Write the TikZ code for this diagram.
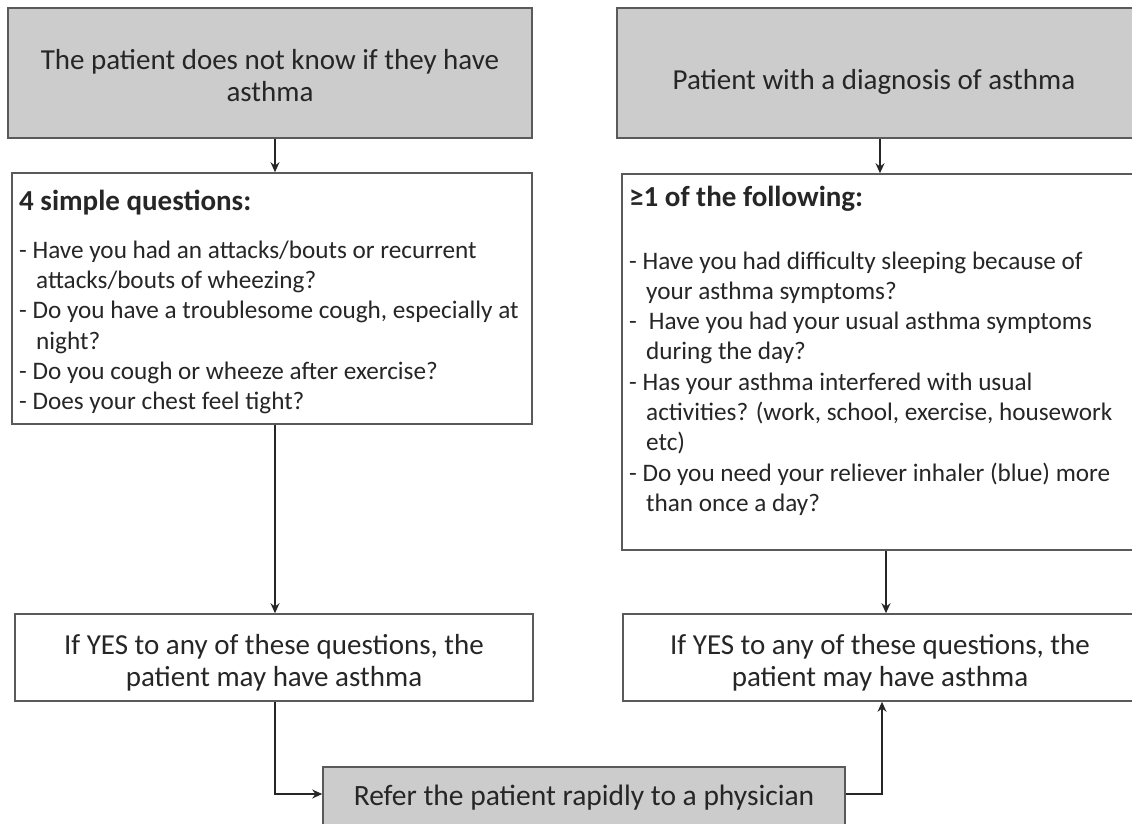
\documentclass[tikz,border=0pt]{standalone}
\usepackage{fontspec}
\setmainfont{Carlito}
\usetikzlibrary{arrows.meta}
\definecolor{boxgray}{HTML}{CCCCCC}
\definecolor{linegray}{HTML}{5A5A5A}
\definecolor{txt}{HTML}{262626}
\begin{document}
\begin{tikzpicture}[x=1pt,y=-1pt,
  box/.style={draw=linegray, line width=1.6pt, rectangle, inner sep=0pt},
  graybox/.style={box, fill=boxgray},
  whitebox/.style={box, fill=white},
  arr/.style={draw=black!85, line width=1.2pt, -{Stealth[length=10pt,width=9pt]}},
  bigtext/.style={align=center, inner sep=0pt, text=txt, font=\fontsize{29}{32}\selectfont},
  listtext/.style={anchor=north west, align=left, inner sep=0pt, text=txt, font=\fontsize{25.2}{30.3}\selectfont},
]
\useasboundingbox (0,0) rectangle (1132,823);
\clip (0,0) rectangle (1132,823);
\fill[white] (0,0) rectangle (1132,823);

% boxes
\node[graybox, minimum width=524pt, minimum height=130pt] (g1) at (270,73) {};
\node[graybox, minimum width=517pt, minimum height=130pt] (g2) at (875.5,73) {};
\node[whitebox, minimum width=520pt, minimum height=251pt] (q1) at (272,298.5) {};
\node[whitebox, minimum width=512pt, minimum height=376pt] (q2) at (878,362) {};
\node[whitebox, minimum width=518pt, minimum height=87pt] (y1) at (274,657.5) {};
\node[whitebox, minimum width=511pt, minimum height=87pt] (y2) at (878.5,657.5) {};
\node[graybox, minimum width=522pt, minimum height=59pt] (r) at (584,796.5) {};

% texts
\node[bigtext] (g1t) at (270,76) {The patient does not know if they have\\asthma};
\node[bigtext] (g2t) at (874,82) {Patient with a diagnosis of asthma};
\node[listtext] (q1t) at (19,190) {{\fontsize{29}{32}\selectfont\bfseries 4 simple questions:}\\[17.3pt]
- Have you had an attacks/bouts or recurrent\\
\hspace*{17pt}attacks/bouts of wheezing?\\
- Do you have a troublesome cough, especially at\\
\hspace*{17pt}night?\\
- Do you cough or wheeze after exercise?\\
- Does your chest feel tight?};
\node[listtext] (q2t) at (629,186) {{\fontsize{29}{32}\selectfont\bfseries ≥1 of the following:}\\[32.2pt]
- Have you had difficulty sleeping because of\\
\hspace*{17pt}your asthma symptoms?\\
-\hspace*{12pt}Have you had your usual asthma symptoms\\
\hspace*{17pt}during the day?\\
- Has your asthma interfered with usual\\
\hspace*{17pt}activities? (work, school, exercise, housework\\
\hspace*{17pt}etc)\\
- Do you need your reliever inhaler (blue) more\\
\hspace*{17pt}than once a day?};
\node[bigtext] (y1t) at (274,663) {If YES to any of these questions, the\\patient may have asthma};
\node[bigtext] (y2t) at (880,663) {If YES to any of these questions, the\\patient may have asthma};
\node[bigtext, font=\fontsize{29.5}{32}\selectfont] (rt) at (584,798) {Refer the patient rapidly to a physician};

% connectors
\draw[arr] ([xshift=5pt]g1.south) -- ([xshift=5pt]g1.south |- q1.north);
\draw[arr] ([xshift=4.5pt]g2.south) -- ([xshift=4.5pt]g2.south |- q2.north);
\draw[arr] ([xshift=3pt]q1.south) -- ([xshift=3pt]q1.south |- y1.north);
\draw[arr] ([xshift=8pt]q2.south) -- ([xshift=8pt]q2.south |- y2.north);
\draw[arr] ([xshift=1pt]y1.south) |- ([yshift=2.5pt]r.west);
\draw[arr] ([yshift=2.5pt]r.east) -| ([xshift=3.5pt]y2.south);
\end{tikzpicture}
\end{document}
